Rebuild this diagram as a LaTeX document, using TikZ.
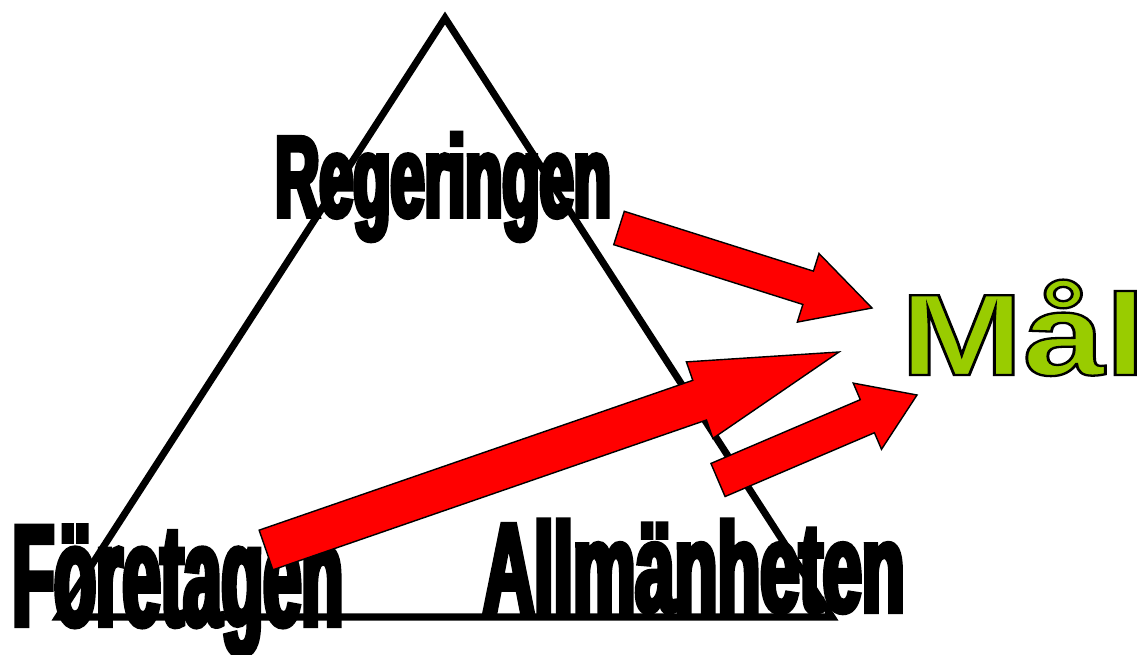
\documentclass[tikz,border=0pt]{standalone}
\usepackage{fontspec}
\usepackage{xcolor}
\usepackage{graphicx}
\usepackage{tikz}
\usetikzlibrary{calc}
\setmainfont{Liberation Sans}
\newfontfamily\heavyfont{Liberation Sans Bold}
\newfontfamily\goalfont{Liberation Sans Bold}
\definecolor{goalgreen}{RGB}{153, 204, 0}
\definecolor{arrowred}{RGB}{255, 0, 0}

% letters filled and stroked: width, text
\newcommand{\rimmed}[2]{%
  \special{pdf:literal direct 0 0 0 RG #1 w 2 Tr}#2\special{pdf:literal direct 0 Tr}}

% block arrow: tail, tip, half shaft width, half head width, head length
\newcommand{\blockarrow}[5]{%
  \coordinate (hb) at ($(#2)!#5!(#1)$);
  \filldraw[redarrow] ($(#1)!#3!90:(#2)$) -- ($(hb)!#3!90:(#2)$) -- ($(hb)!#4!90:(#2)$)
    -- (#2) -- ($(hb)!#4!-90:(#2)$) -- ($(hb)!#3!-90:(#2)$) -- ($(#1)!#3!-90:(#2)$) -- cycle;
}

\begin{document}
\begin{tikzpicture}[
    x=0.02cm, y=-0.02cm,
    edge/.style={draw=black, line width=4pt, line join=miter},
    actor/.style={anchor=base west, inner sep=0pt, font=\heavyfont},
    goal/.style={anchor=base west, inner sep=0pt, font=\goalfont, text=goalgreen},
    redarrow/.style={fill=arrowred, draw=black, line width=0.8pt, line join=miter}
]
\useasboundingbox (0,0) rectangle (1146,655);

% Triangle
\coordinate (top)   at (445, 18);
\coordinate (left)  at (58, 617);
\coordinate (right) at (832, 617);
\draw[edge] (top) -- (right) -- (left) -- cycle;

% Actors
\node[actor] (gov) at (275, 216.5)
  {\addfontfeatures{FakeStretch=0.53}\fontsize{65.5}{68}\selectfont\rimmed{2.8}{Regeringen}};
\node[actor] (firms) at (12, 625.5)
  {\addfontfeatures{FakeStretch=0.475}\fontsize{82}{84}\selectfont\rimmed{3}{Företagen}};
\node[actor] (public) at (483, 611.5)
  {\addfontfeatures{FakeStretch=0.555}\fontsize{72}{74}\selectfont\rimmed{2.9}{Allmänheten}};

% Goal
\node[goal] (goal) at (900, 375)
  {\fontsize{66}{68}\selectfont\scalebox{1.27}[1]{\rimmed{1.3}{Mål}}};

% Arrows towards the goal
\coordinate (gov-tail)    at (619, 228);
\coordinate (gov-tip)     at (872, 308);
\coordinate (firms-tail)  at (266, 550);
\coordinate (firms-tip)   at (839, 352);
\coordinate (public-tail) at (718, 480);
\coordinate (public-tip)  at (917, 395);
\blockarrow{gov-tail}{gov-tip}{0.35cm}{0.72cm}{1.34cm}
\blockarrow{firms-tail}{firms-tip}{0.42cm}{0.81cm}{2.95cm}
\blockarrow{public-tail}{public-tip}{0.36cm}{0.72cm}{1.08cm}

\end{tikzpicture}
\end{document}
